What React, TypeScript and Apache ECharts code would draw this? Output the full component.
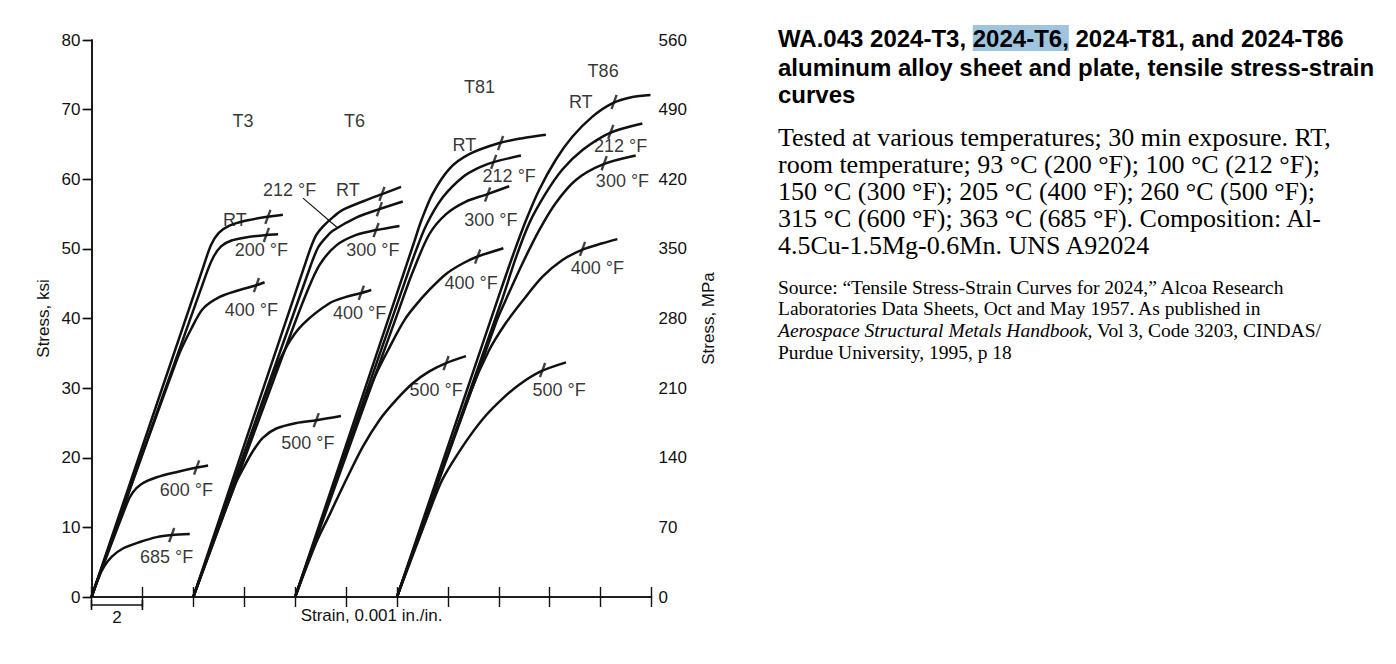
import React, { useEffect, useRef } from "react";
import * as echarts from "echarts";

// ---- Data (strain in 0.001 in./in., stress in ksi) ----
const T3_RT = [[0, 0], [4.4, 47.5], [4.7, 50.6], [5.0, 52.3], [5.4, 53.3], [6.0, 54.0], [6.9, 54.6], [7.52, 54.9]];
const T3_200 = [[0, 0], [4.5, 46.3], [4.8, 48.9], [5.1, 50.4], [5.5, 51.2], [6.0, 51.6], [6.87, 52.0], [7.33, 52.1]];
const T3_400 = [[0, 0], [3.4, 34.5], [3.93, 38.6], [4.38, 41.4], [5.04, 43.1], [5.82, 44.1], [6.41, 44.7], [6.8, 45.2]];
const T3_600 = [[0, 0], [1.4, 13.5], [1.62, 15.0], [1.95, 16.2], [2.56, 17.2], [3.4, 18.0], [4.13, 18.6], [4.58, 18.9]];
const T3_685 = [[0, 0], [0.25, 2.6], [0.5, 4.4], [0.8, 5.8], [1.25, 7.0], [1.9, 7.9], [2.56, 8.6], [3.15, 8.9], [3.86, 9.05]];

const T6_RT = [[4, 0], [8.5, 49.0], [8.8, 51.8], [9.09, 53.2], [9.5, 54.6], [9.87, 55.6], [10.79, 57.0], [11.44, 57.9], [12.16, 58.9]];
const T6_212 = [[4, 0], [8.6, 47.5], [8.9, 50.2], [9.2, 51.6], [9.48, 52.6], [10.4, 54.5], [11.31, 55.7], [12.23, 56.8]];
const T6_300 = [[4, 0], [7.9, 38.5], [8.44, 43.6], [8.96, 47.7], [9.62, 50.5], [10.4, 52.0], [11.18, 52.7], [12.1, 53.3]];
const T6_400 = [[4, 0], [7.1, 31.5], [7.7, 36.2], [8.31, 39.2], [9.35, 42.2], [10.0, 43.1], [10.53, 43.6], [10.99, 44.1]];
const T6_500 = [[4, 0], [5.65, 16.2], [5.98, 18.6], [6.35, 21.0], [6.74, 22.9], [7.26, 24.2], [8.05, 25.0], [8.83, 25.4], [9.8, 26.0]];

const T81_RT = [[8, 0], [12.65, 50.7], [12.95, 54.0], [13.4, 57.9], [14.06, 61.5], [14.84, 63.6], [16.02, 65.2], [16.93, 65.9], [17.85, 66.4]];
const T81_212 = [[8, 0], [12.4, 46.2], [12.7, 49.3], [13.15, 53.4], [13.8, 57.4], [14.58, 60.3], [15.24, 61.7], [15.82, 62.5], [16.87, 63.4]];
const T81_300 = [[8, 0], [12.1, 41.5], [12.6, 46.5], [13.27, 52.1], [13.93, 55.0], [14.71, 56.8], [15.5, 57.8], [16.41, 59.0]];
const T81_400 = [[8, 0], [11.0, 30.5], [11.8, 36.5], [12.3, 39.8], [12.69, 41.7], [13.27, 44.1], [13.93, 46.4], [14.58, 47.9], [15.17, 48.9], [16.18, 50.1]];
const T81_500 = [[8, 0], [8.85, 8.0], [9.35, 11.8], [10.0, 16.8], [10.66, 21.6], [11.31, 25.4], [11.97, 28.3], [12.62, 30.7], [13.27, 32.4], [13.93, 33.6], [14.71, 34.6]];

const T86_RT = [[12, 0], [16.0, 43.2], [16.54, 48.9], [17.07, 54.1], [17.59, 58.5], [18.24, 62.8], [18.89, 66.1], [19.68, 69.0], [20.46, 70.9], [21.25, 71.8], [21.96, 72.1]];
const T86_212 = [[12, 0], [16.1, 42.4], [16.67, 48.7], [17.2, 53.7], [17.85, 58.0], [18.5, 61.4], [19.29, 64.2], [20.33, 66.6], [21.64, 68.0]];
const T86_300 = [[12, 0], [15.9, 39.5], [16.28, 42.7], [16.93, 47.9], [17.59, 52.7], [18.24, 56.6], [19.03, 59.9], [20.07, 62.1], [21.38, 63.4]];
const T86_400 = [[12, 0], [14.9, 29.5], [15.6, 35.3], [16.25, 39.2], [16.93, 42.5], [17.72, 46.0], [18.5, 48.4], [19.29, 49.9], [20.07, 50.8], [20.66, 51.4]];
const T86_500 = [[12, 0], [13.4, 13.5], [13.75, 16.6], [14.19, 19.4], [14.84, 23.0], [15.5, 26.1], [16.15, 28.5], [16.8, 30.5], [17.65, 32.4], [18.64, 33.7]];

const curves = [
  T3_RT, T3_200, T3_400, T3_600, T3_685,
  T6_RT, T6_212, T6_300, T6_400, T6_500,
  T81_RT, T81_212, T81_300, T81_400, T81_500,
  T86_RT, T86_212, T86_300, T86_400, T86_500,
];

// small cross-marks on each curve
const crossMarks = [
  [6.93, 54.6], [6.87, 52.0], [6.48, 44.8], [4.13, 18.6], [3.15, 8.9],
  [11.41, 57.9], [11.31, 55.7], [11.18, 52.7], [10.6, 43.7], [8.83, 25.4],
  [16.07, 65.2], [15.8, 62.5], [15.56, 57.8], [15.17, 48.9], [13.93, 33.6],
  [20.53, 71.1], [20.4, 66.8], [20.14, 62.3], [19.29, 50.0], [17.72, 32.6],
];

// annotation labels [x, y, text]
const curveLabels: [number, number, string][] = [
  [5.95, 68.3, "T3"], [10.33, 68.3, "T6"], [15.24, 73.2, "T81"], [20.1, 75.6, "T86"],
  [5.63, 54.2, "RT"], [6.67, 49.9, "200 °F"], [6.28, 41.2, "400 °F"], [3.73, 15.4, "600 °F"], [2.95, 5.8, "685 °F"],
  [7.78, 58.5, "212 °F"], [10.07, 58.5, "RT"], [11.05, 49.8, "300 °F"], [10.53, 40.8, "400 °F"], [8.5, 22.1, "500 °F"],
  [14.65, 64.9, "RT"], [16.41, 60.4, "212 °F"], [15.69, 54.2, "300 °F"], [14.91, 45.1, "400 °F"], [13.54, 29.7, "500 °F"],
  [19.22, 71.1, "RT"], [20.79, 64.8, "212 °F"], [20.86, 59.7, "300 °F"], [19.87, 47.2, "400 °F"], [18.37, 29.7, "500 °F"],
];

const leader = [[8.31, 57.3], [9.64, 53.1]];

const titleLines = [
  "WA.043 2024-T3, 2024-T6, 2024-T81, and 2024-T86",
  "aluminum alloy sheet and plate, tensile stress-strain",
  "curves",
];
const bodyLines = [
  "Tested at various temperatures; 30 min exposure. RT,",
  "room temperature; 93 °C (200 °F); 100 °C (212 °F);",
  "150 °C (300 °F); 205 °C (400 °F); 260 °C (500 °F);",
  "315 °C (600 °F); 363 °C (685 °F). Composition: Al-",
  "4.5Cu-1.5Mg-0.6Mn. UNS A92024",
];
const sourceLines = [
  "Source: “Tensile Stress-Strain Curves for 2024,” Alcoa Research",
  "Laboratories Data Sheets, Oct and May 1957. As published in",
  "{i|Aerospace Structural Metals Handbook,}{n| Vol 3, Code 3203, CINDAS/}",
  "Purdue University, 1995, p 18",
];

const INK = "#111";
const SANS = "Liberation Sans, Arial, sans-serif";
const SERIF = "Liberation Serif, Times New Roman, serif";

export default function App() {
  const ref = useRef<HTMLDivElement>(null);
  useEffect(() => {
    if (!ref.current) return;
    const chart = echarts.init(ref.current, undefined, { renderer: "svg" });
    const axisLineStyle = { color: INK, width: 1.6 };
    const tickStyle = { color: INK, width: 1.4 };
    const series: any[] = curves.map((d) => ({
      type: "line",
      data: d,
      smooth: 0.3,
      showSymbol: false,
      symbol: "none",
      lineStyle: { color: INK, width: 2.5 },
      xAxisIndex: 0,
      yAxisIndex: 0,
      silent: true,
    }));
    series.push({
      type: "line",
      data: leader,
      showSymbol: false,
      symbol: "none",
      lineStyle: { color: INK, width: 1.1 },
    });
    series.push({
      type: "scatter",
      data: crossMarks,
      symbol: "rect",
      symbolSize: [2.4, 15],
      symbolRotate: -20,
      itemStyle: { color: INK },
    });
    series.push({
      type: "scatter",
      data: curveLabels.map((l) => ({ value: [l[0], l[1]], name: l[2] })),
      symbolSize: 1,
      itemStyle: { color: "rgba(0,0,0,0)" },
      label: {
        show: true,
        position: "inside",
        formatter: "{b}",
        color: "#000",
        textBorderWidth: 0,
        fontSize: 18,
        fontFamily: SANS,
      },
    });
    const option: any = {
      animation: false,
      backgroundColor: "#fff",
      grid: { left: 91.5, right: 744.5, top: 40, bottom: 67, containLabel: false },
      xAxis: [
        {
          type: "value", min: 0, max: 22, interval: 2, position: "bottom",
          axisLine: { show: true, lineStyle: axisLineStyle },
          axisTick: { show: true, inside: true, length: 10, lineStyle: tickStyle },
          axisLabel: { show: false }, splitLine: { show: false },
          name: "Strain, 0.001 in./in.", nameLocation: "middle", nameGap: 10,
          nameTextStyle: { color: INK, fontSize: 17, fontFamily: SANS, verticalAlign: "top" },
        },
        {
          type: "value", min: 0, max: 22, interval: 2, position: "top",
          axisLine: { show: true, lineStyle: axisLineStyle },
          axisTick: { show: true, inside: true, length: 10, lineStyle: tickStyle },
          axisLabel: { show: false }, splitLine: { show: false },
        },
      ],
      yAxis: [
        {
          type: "value", min: 0, max: 80, interval: 10, position: "left",
          axisLine: { show: true, lineStyle: axisLineStyle },
          axisTick: { show: true, inside: false, length: 8, lineStyle: tickStyle },
          axisLabel: { margin: 11, color: INK, fontSize: 17, fontFamily: SANS },
          splitLine: { show: false },
          name: "Stress, ksi", nameLocation: "middle", nameRotate: 90, nameGap: 40,
          nameTextStyle: { color: INK, fontSize: 17, fontFamily: SANS },
        },
        {
          type: "value", min: 0, max: 560, interval: 70, position: "right",
          axisLine: { show: true, lineStyle: axisLineStyle },
          axisTick: { show: true, inside: true, length: 9, lineStyle: tickStyle },
          axisLabel: { margin: 7, color: INK, fontSize: 17, fontFamily: SANS },
          splitLine: { show: false },
          name: "Stress, MPa", nameLocation: "middle", nameRotate: 90, nameGap: 48,
          nameTextStyle: { color: INK, fontSize: 17, fontFamily: SANS },
        },
      ],
      series,
    };
    chart.setOption(option);

    const p0 = chart.convertToPixel({ xAxisIndex: 0, yAxisIndex: 0 }, [0, 0]) as number[];
    const p2 = chart.convertToPixel({ xAxisIndex: 0, yAxisIndex: 0 }, [2, 0]) as number[];
    const barY = p0[1] + 8;
    const graphic: any[] = [
      { type: "line", shape: { x1: p0[0], y1: barY, x2: p2[0], y2: barY }, style: { stroke: INK, lineWidth: 1.6 } },
      { type: "line", shape: { x1: p0[0], y1: barY - 5, x2: p0[0], y2: barY + 5 }, style: { stroke: INK, lineWidth: 1.6 } },
      { type: "line", shape: { x1: p2[0], y1: barY - 5, x2: p2[0], y2: barY + 5 }, style: { stroke: INK, lineWidth: 1.6 } },
      {
        type: "text", x: (p0[0] + p2[0]) / 2, y: barY + 12,
        style: { text: "2", fill: INK, fontSize: 17, fontFamily: SANS, align: "center", verticalAlign: "middle" },
      },
    ];
    const titleY = [38, 67, 94];
    titleLines.forEach((t, i) => {
      const text = i === 0 ? "{n|WA.043 2024-T3, }{h|2024-T6,}{n| 2024-T81, and 2024-T86}" : t;
      graphic.push({
        type: "text", x: 778, y: titleY[i],
        style: {
          text, fill: "#000", fontSize: 24, fontWeight: "bold", fontFamily: SANS,
          verticalAlign: "middle", align: "left", lineHeight: 26,
          rich: {
            n: { fill: "#000", fontSize: 24, fontWeight: "bold", fontFamily: SANS, lineHeight: 26 },
            h: { fill: "#000", fontSize: 24, fontWeight: "bold", fontFamily: SANS, lineHeight: 26, backgroundColor: "#9ec4de", padding: [1, 0, 1, 0] },
          },
        },
      });
    });
    const bodyY = [137, 164, 191, 218, 245];
    bodyLines.forEach((t, i) => {
      graphic.push({
        type: "text", x: 778, y: bodyY[i],
        style: { text: t, fill: "#000", fontSize: 26, lineHeight: 25, fontFamily: SERIF, verticalAlign: "middle", align: "left" },
      });
    });
    const srcY = [287, 308, 330, 352];
    sourceLines.forEach((t, i) => {
      graphic.push({
        type: "text", x: 778, y: srcY[i],
        style: {
          text: t, fill: "#000", fontSize: 19.5, lineHeight: 20, fontFamily: SERIF, verticalAlign: "middle", align: "left",
          rich: {
            i: { fill: "#000", fontSize: 19.5, lineHeight: 20, fontFamily: SERIF, fontStyle: "italic" },
            n: { fill: "#000", fontSize: 19.5, lineHeight: 20, fontFamily: SERIF },
          },
        },
      });
    });
    chart.setOption({ graphic });
    return () => chart.dispose();
  }, []);
  return (
    <div
      ref={ref}
      style={{ position: "fixed", left: 0, top: 0, width: 1396, height: 664, background: "#fff" }}
    />
  );
}
